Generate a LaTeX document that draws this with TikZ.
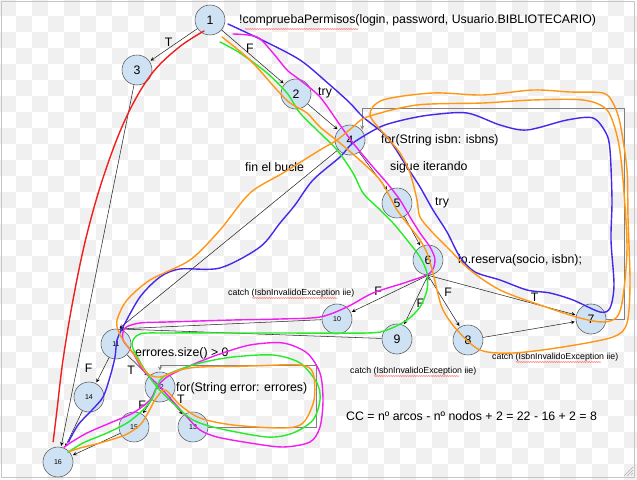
\documentclass[tikz,border=0pt]{standalone}
\usepackage{fontspec}
\setmainfont{Liberation Sans}
\usetikzlibrary{positioning, arrows, calc, decorations.pathmorphing}

\definecolor{nodofondo}{RGB}{207,226,243}
\definecolor{nodoborde}{RGB}{95,95,95}
\definecolor{cuadro}{RGB}{240,240,240}
\definecolor{rojo}{RGB}{240,30,30}
\definecolor{azul}{RGB}{70,40,235}
\definecolor{rosa}{RGB}{240,30,240}
\definecolor{verde}{RGB}{40,235,40}
\definecolor{naranja}{RGB}{255,150,20}

\begin{document}
\begin{tikzpicture}[x=0.03cm, y=-0.03cm, >=stealth, shorten >=1pt,
  nodo/.style={circle, draw=nodoborde, fill=nodofondo, line width=0.5pt, minimum size=0.9cm, inner sep=0pt, font=\fontsize{10.5}{12}\selectfont},
  nodochico/.style={nodo, font=\fontsize{6}{7}\selectfont},
  texto/.style={anchor=west, inner sep=0pt, font=\fontsize{10.5}{12}\selectfont},
  textochico/.style={texto, font=\fontsize{7.5}{9}\selectfont},
  etiq/.style={font=\fontsize{10.5}{12}\selectfont, inner sep=1.5pt},
  arco/.style={->, draw=black!85, line width=0.45pt},
  bucle/.style={->, draw=gray, line width=0.6pt},
  corrector/.style={draw=red!75, line width=0.4pt, decorate, decoration={snake, amplitude=0.3pt, segment length=2pt}},
  camino/.style={line width=1.2pt, line cap=round, line join=round}]

  % fondo a cuadros
  \useasboundingbox (0,0) rectangle (637,480);
  \fill[white] (0,0) rectangle (637,480);
  \foreach \i in {0,...,39}
    \foreach \j in {0,...,29} {
      \pgfmathtruncatemacro\chk{mod(\i+\j,2)}
      \ifnum\chk=0 \fill[cuadro] (\i*16,\j*16) rectangle ++(16,16); \fi
    }
  \draw[gray!45] (1,1) rectangle (634,477);
  \draw[gray!60] (633,467) -- (624,476) (633,470) -- (627,476) (633,473) -- (630,476);

  % nodos
  \node[nodo] (1) at (210,20) {1};
  \node[nodo] (3) at (137,70) {3};
  \node[nodo] (2) at (296,94) {2};
  \node[nodo] (4) at (350,140) {4};
  \node[nodo] (5) at (397,203) {5};
  \node[nodo] (6) at (428,260) {6};
  \node[nodo] (7) at (591,319) {7};
  \node[nodo] (8) at (468,340) {8};
  \node[nodo] (9) at (397,339) {9};
  \node[nodochico] (10) at (337,319) {10};
  \node[nodochico] (11) at (116,344) {11};
  \node[nodochico] (12) at (160,387) {12};
  \node[nodochico] (13) at (193,427) {13};
  \node[nodochico] (14) at (89,397) {14};
  \node[nodochico] (15) at (134,427) {15};
  \node[nodochico] (16) at (58,462) {16};

  % textos
  \node[texto] (permisos) at (239,20) {!compruebaPermisos(login, password, Usuario.BIBLIOTECARIO)};
  \node[texto] (try1) at (318,93) {try};
  \node[texto] (forisbn) at (381,140) {for(String isbn: isbns)};
  \node[texto] (fin) at (245,167) {fin el bucle};
  \node[texto] (sigue) at (390,167) {sigue iterando};
  \node[texto] (try2) at (435,203) {try};
  \node[texto] (reserva) at (458,260) {io.reserva(socio, isbn);};
  \node[textochico] (catch1) at (228,293) {catch (IsbnInvalidoException iie)};
  \node[textochico] (catch2) at (492,357) {catch (IsbnInvalidoException iie)};
  \node[textochico] (catch3) at (350,371) {catch (IsbnInvalidoException iie)};
  \node[texto] (errores) at (135,353) {errores.size() > 0};
  \node[texto] (forerror) at (176,388) {for(String error: errores)};
  \node[texto] (cc) at (346,416) {CC = nº arcos - nº nodos + 2 = 22 - 16 + 2 = 8};

  \draw[corrector] ($(permisos.west)+(6,9)$) -- ++(113,0);
  \foreach \c in {catch1, catch2, catch3}
    \draw[corrector] ($(\c.west)+(24,5)$) -- ++(85,0);

  % arcos
  \path[arco]
  (1) edge node[etiq, pos=0.6, above] {T} (3)
  (1) edge node[etiq, pos=0.45, above] {F} (2)
  (2) edge (4)
  (4) edge (5)
  (4) edge (11.80)
  (5) edge (6)
  (6.south) edge node[etiq, pos=0.6, above left=0pt and -2pt] {F} (10)
  (6.south) edge node[etiq, pos=0.55, right] {F} (9)
  (6.south) edge node[etiq, pos=0.45, above right] {F} (8)
  (6.south) edge node[etiq, pos=0.72, above] {T} (7)
  (8) edge (7)
  (10) edge (11.80)
  (9) edge (11.80)
  (11) edge node[etiq, pos=0.45, below left] {T} (12)
  (11) edge node[etiq, pos=0.4, left=8pt] {F} (14)
  (12) edge node[etiq, pos=0.4, left] {F} (15)
  (12) edge node[etiq, pos=0.4, above right] {T} (13)
  (14) edge (16)
  (15) edge (16)
  (3) edge (16);

  % bucles
  \coordinate (l7) at (624,108);
  \coordinate (l13) at (316,365);
  \draw[bucle] (7.east) -| (l7) -| (4.37);
  \draw[bucle] (13.east) -| (l13) -| (12.north);

  % caminos
  \draw[camino, rojo] plot[smooth, tension=0.6] coordinates {
    (204,31) (178,48) (150,76) (125,120) (103,178) (86,238) (73,300) (63,360) (57,410) (53,443)};
  \draw[camino, azul] plot[smooth, tension=0.5] coordinates {
    (228,24) (262,40) (300,60) (330,85) (350,103) (363,117) (387,137) (407,167) (420,187) (433,210)
    (447,232) (460,257) (475,272) (500,280) (527,290) (550,293) (573,300) (600,312) (610,308) (614,285)
    (611,240) (612,200) (610,150) (606,133) (593,118) (567,120) (527,130) (500,125) (467,113) (430,115)
    (403,120) (380,127) (353,143) (340,157) (313,180) (295,205) (280,223) (260,247) (220,268) (180,269)
    (160,277) (140,297) (123,327) (117,340) (115,357) (110,377) (103,397) (92,410) (78,425) (68,443)};
  \draw[camino, rosa] plot[smooth, tension=0.5] coordinates {
    (233,34) (257,37) (273,53) (287,70) (300,80) (320,97) (340,125) (353,143) (373,167) (387,183)
    (400,200) (410,217) (420,233) (430,247) (435,260) (430,273) (407,282) (373,293) (347,307) (320,317)
    (280,319) (233,320) (167,322) (140,323) (125,328) (123,340) (133,353) (143,370) (160,387) (187,417)
    (200,430) (217,437) (250,443) (283,447) (310,442) (320,427) (323,400) (320,373) (307,353) (283,343)
    (250,345) (217,355) (187,367) (167,377) (157,387) (150,400) (133,413) (110,423) (87,433) (70,443) (63,448)};
  \draw[camino, verde] plot[smooth, tension=0.5] coordinates {
    (220,42) (240,53) (267,73) (287,93) (300,113) (320,133) (337,150) (353,173) (363,193) (377,207)
    (393,223) (407,240) (420,257) (427,273) (427,290) (420,307) (407,320) (387,330) (367,333) (280,333)
    (233,333) (167,333) (140,334) (132,345) (143,367) (157,387) (177,407) (193,420) (217,428) (267,437)
    (293,433) (313,420) (320,400) (317,383) (300,363) (273,355) (233,357) (200,363) (173,372) (160,380)
    (153,397) (143,410) (127,423) (107,433) (83,443) (67,453)};
  \draw[camino, naranja] plot[smooth, tension=0.5] coordinates {
    (222,37) (250,60) (277,90) (290,103) (307,113) (320,127) (340,143) (363,163) (380,180) (390,197)
    (397,210) (410,227) (420,240) (427,253) (433,273) (437,290) (443,310) (457,330) (480,350) (513,353)
    (563,347) (613,337) (627,323) (630,283) (628,217) (627,170) (620,123) (613,103) (603,93) (570,92)
    (533,90) (483,95) (433,93) (383,100) (370,115) (387,137) (400,153) (410,173) (417,200) (420,217)
    (433,233) (447,247) (470,270) (500,290) (540,305) (580,318) (603,322) (617,317) (623,297) (627,247)
    (623,180) (618,140) (607,110) (583,100) (533,100) (483,103) (417,105) (367,117) (353,127) (337,140)
    (320,150) (283,173) (250,193) (220,230) (190,260) (150,280) (127,300) (118,317) (117,327) (123,340)
    (133,353) (147,373) (160,377) (180,370) (200,367) (250,366) (300,365) (313,373) (314,400) (303,423)
    (283,428) (233,425) (200,418) (180,405) (165,390) (155,400) (148,413) (140,425) (125,435) (100,443)
    (80,448) (68,452)};
\end{tikzpicture}
\end{document}
